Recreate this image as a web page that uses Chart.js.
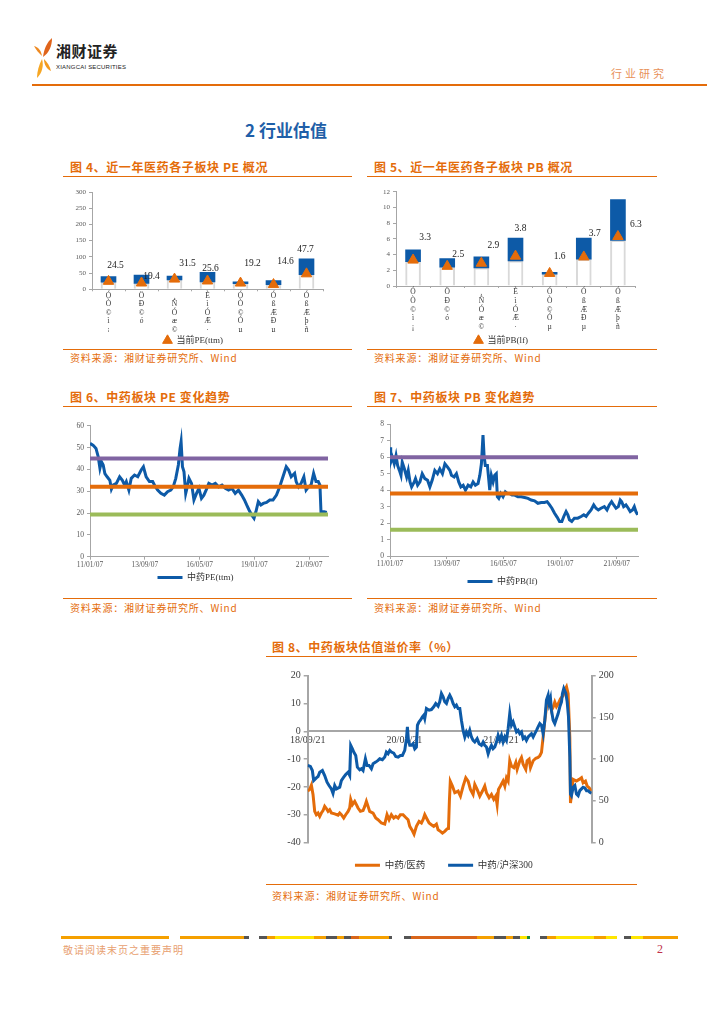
<!DOCTYPE html>
<html><head><meta charset="utf-8">
<script src="https://cdn.jsdelivr.net/npm/chart.js@4.4.1/dist/chart.umd.min.js"></script>
<style>
body{margin:0;background:#fff;width:724px;height:1024px;position:relative;overflow:hidden;font-family:'Noto Sans CJK SC',sans-serif;}
.hl{position:absolute;height:1px;background:#E46C0A;}
.ct{position:absolute;font-size:12px;line-height:14px;font-weight:700;color:#E46C0A;letter-spacing:0.6px;white-space:nowrap;}
.src{position:absolute;font-size:10px;line-height:14px;color:#E46C0A;letter-spacing:0.8px;white-space:nowrap;}
.seg{position:absolute;top:936px;height:3px;}
canvas{position:absolute;}
</style></head><body>

<svg style="position:absolute;left:33px;top:37px" width="22" height="42" viewBox="0 0 22 42">
  <path d="M10 20 C11 12 14 5 19 1 C19 9 16 16 10 20 Z" fill="#E0641B"/>
  <path d="M9 19 C6 16 3 13 1 9 C5 10 8 13 9 19 Z" fill="#EE8A22"/>
  <path d="M9 22 C6 28 4 34 4 41 C9 36 11 29 9 22 Z" fill="#F6A623"/>
  <path d="M11 22 C14 25 17 29 18 34 C14 32 11 28 11 22 Z" fill="#F39A1E"/>
</svg>
<div style="position:absolute;left:56px;top:42px;font-size:15px;font-weight:700;color:#222;letter-spacing:0.5px;line-height:18px">湘财证券</div>
<div style="position:absolute;left:56px;top:63px;font-size:6px;color:#222;letter-spacing:0.2px;line-height:8px;font-family:'Liberation Sans',sans-serif">XIANGCAI SECURITIES</div>
<div style="position:absolute;left:611px;top:66px;font-size:11px;color:#E8915A;letter-spacing:3px;line-height:14px">行业研究</div>
<div class="hl" style="left:32px;top:84px;width:675px;height:1.5px"></div>

<div style="position:absolute;left:245px;top:119px;font-size:17px;font-weight:700;color:#1F5FA8;line-height:22px">2 行业估值</div>

<div class="ct" style="left:70px;top:160px">图 4、近一年医药各子板块 PE 概况</div>
<div class="ct" style="left:374px;top:160px">图 5、近一年医药各子板块 PB 概况</div>
<div class="hl" style="left:63px;top:176px;width:289px"></div>
<div class="hl" style="left:367px;top:176px;width:290px"></div>
<div class="hl" style="left:63px;top:349px;width:289px"></div>
<div class="hl" style="left:367px;top:349px;width:290px"></div>
<div class="src" style="left:70px;top:351px">资料来源：湘财证券研究所、Wind</div>
<div class="src" style="left:374px;top:351px">资料来源：湘财证券研究所、Wind</div>

<div class="ct" style="left:70px;top:390px">图 6、中药板块 PE 变化趋势</div>
<div class="ct" style="left:374px;top:390px">图 7、中药板块 PB 变化趋势</div>
<div class="hl" style="left:63px;top:406px;width:289px"></div>
<div class="hl" style="left:367px;top:406px;width:290px"></div>
<div class="hl" style="left:63px;top:598px;width:289px"></div>
<div class="hl" style="left:367px;top:598px;width:290px"></div>
<div class="src" style="left:70px;top:601px">资料来源：湘财证券研究所、Wind</div>
<div class="src" style="left:374px;top:601px">资料来源：湘财证券研究所、Wind</div>

<div class="ct" style="left:272px;top:640px">图 8、中药板块估值溢价率（%）</div>
<div class="hl" style="left:266px;top:656px;width:371px"></div>
<div class="hl" style="left:266px;top:884px;width:371px"></div>
<div class="src" style="left:272px;top:889px">资料来源：湘财证券研究所、Wind</div>

<canvas id="c4" width="289" height="172" style="left:63px;top:183px"></canvas>
<canvas id="c5" width="290" height="172" style="left:367px;top:183px"></canvas>
<canvas id="c6" width="290" height="180" style="left:63px;top:412px"></canvas>
<canvas id="c7" width="290" height="184" style="left:367px;top:412px"></canvas>
<canvas id="c8" width="371" height="218" style="left:266px;top:662px"></canvas>

<div id="footer"></div>
<div style="position:absolute;left:63px;top:943px;font-size:10px;color:#E8A070;letter-spacing:1px;line-height:14px">敬请阅读末页之重要声明</div>
<div style="position:absolute;left:657px;top:942px;font-size:12px;color:#C0304A;line-height:14px;font-family:'Liberation Serif',serif">2</div>

<script>
// ---------- DATA ----------
const subSectors = [
  ['Ó','Ò','©','ì','¡'],
  ['Ö','Ð','©','ó'],
  ['¸','Ñ','Ó','æ','©'],
  ['È','ì','Ó','Æ','·'],
  ['Ó','Ò','©','Ó','µ'],
  ['Ó','ß','Æ','Ð','µ'],
  ['Ó','ß','Æ','þ','ñ']
];
const peNow = [24.5, 19.4, 31.5, 25.6, 19.2, 14.6, 47.7];
const peMin = [22, 18, 29, 23, 17, 14, 45];
const peMax = [39, 44, 41, 52, 23, 27, 94];
const pbNow = [3.3, 2.5, 2.9, 3.8, 1.6, 3.7, 6.3];
const pbMin = [3.1, 2.4, 2.3, 3.2, 1.5, 3.4, 5.8];
const pbMax = [4.6, 3.5, 3.7, 6.1, 1.75, 6.1, 11.0];

// months since 2011-01-07
const trendTickMonths = [0, 32, 64, 96, 128];
const trendTickLabels = ['11/01/07', '13/09/07', '16/05/07', '19/01/07', '21/09/07'];
const peBands = [45, 32, 19.3];
const pbBands = [6.0, 3.8, 1.6];
const peSeries = [[0,51.9],[1.9,51],[3.5,49.6],[4.8,45.8],[5.8,40.5],[6.7,43.5],[7.7,42],[8.7,38],[10,36.6],[11.6,35],[12.5,31],[13.5,32.8],[15.4,33.6],[17.3,36.6],[18.9,35],[20.2,32.8],[21.2,34.4],[22.7,30.5],[24.1,35.9],[26,37.4],[27.9,36.6],[29.9,39.7],[31.2,41.2],[32.8,36.6],[34.7,34.4],[36.6,34.4],[38.2,32],[39.5,30.5],[41.4,29],[43.4,28.2],[45.3,29.8],[47.2,30.5],[48.6,32],[50.1,35.9],[51.6,42],[52.6,49.6],[53.2,52.7],[54,41.2],[54.9,38.9],[55.9,29],[56.8,32],[57.8,35.9],[59.3,33.6],[60.7,26],[62.2,29],[63.6,31.3],[65.1,26.7],[66.5,28.2],[67.8,30.5],[69.4,33.6],[71.3,32.8],[73.2,33.6],[75.1,32],[77.1,32.8],[79,31.3],[80.9,30.5],[82.9,31.3],[84.8,29],[86.7,30.5],[88.6,28.2],[90.2,26],[91.5,23.7],[92.9,21.4],[94.4,19.1],[95.8,17.6],[96.9,20.6],[98.3,25.2],[99.8,23.7],[101.2,24.4],[103.1,24.9],[105,26],[106.9,26],[108.9,28.2],[110.8,32],[112.7,36.6],[114.6,41.2],[116,39.7],[117.5,36.6],[119.5,38.2],[120.4,34.4],[121.8,32],[123.3,33.6],[124.9,36.6],[126.2,30.5],[127.6,32],[129.1,32.8],[130.6,38.2],[132,34.4],[133.3,34.4],[134.3,32.8],[134.9,20.6],[136.8,20.6],[138.3,20.3]];
const pbSeries = [[0,6.6],[0.4,5.7],[1.3,6.0],[2.4,5.6],[3.4,6.1],[4.3,5.5],[5.3,5.2],[6.2,4.9],[6.9,5.7],[8.1,5.3],[9.4,4.8],[10.3,5.2],[11.3,4.5],[12.2,4.2],[13.7,4.5],[14.4,4.7],[15.6,4.3],[16.9,4.5],[18.2,5.0],[19.7,4.7],[21.2,4.6],[22.5,4.2],[23.8,4.6],[25.3,5.2],[26.8,5.0],[28.1,5.3],[29.6,5.0],[31.0,5.6],[32.5,5.4],[33.8,5.2],[34.7,4.9],[36.2,4.8],[37.5,5.0],[38.8,4.5],[40.0,4.2],[41.3,4.3],[42.6,4.0],[44.1,4.3],[45.6,4.2],[46.9,4.5],[48.2,4.3],[49.7,4.4],[50.7,4.9],[51.6,5.6],[52.5,7.35],[53.1,6.1],[53.8,5.5],[55.0,5.5],[55.7,4.7],[56.3,4.0],[57.2,4.9],[58.2,4.5],[59.1,4.9],[60.0,5.0],[60.6,3.6],[61.4,3.5],[62.5,3.8],[63.8,3.6],[65.1,3.9],[66.2,3.8],[67.5,3.8],[68.9,3.7],[70.4,3.7],[72.2,3.6],[74.1,3.6],[76.0,3.55],[77.9,3.5],[79.7,3.4],[81.6,3.35],[83.5,3.2],[85.4,3.25],[87.2,3.25],[88.7,3.3],[90.1,3.1],[91.4,2.9],[92.9,2.6],[94.4,2.35],[95.7,2.1],[97.0,2.1],[98.1,2.4],[99.4,2.7],[100.4,2.5],[101.3,2.2],[102.6,2.1],[104.1,2.3],[106.0,2.3],[107.9,2.4],[109.4,2.5],[110.7,2.4],[112.0,2.6],[113.5,2.8],[115.0,3.1],[116.3,2.9],[117.6,2.8],[119.1,2.9],[121.0,3.0],[122.5,2.8],[123.8,3.1],[125.1,3.3],[126.3,3.1],[127.6,2.9],[128.9,3.0],[130.0,3.4],[130.8,3.3],[131.9,3.0],[133.2,3.1],[134.5,2.9],[135.6,2.7],[136.9,2.8],[137.9,3.0],[138.8,2.7],[139.8,2.5]];

// months since 2018-09-21
const premTickMonths = [0, 16, 32];
const premTickLabels = ['18/09/21', '20/01/21', '21/05/21'];
const premVsPharma = [[0,-21.5],[0.33,-20.9],[0.61,-19.4],[0.88,-22.7],[1.16,-28.8],[1.43,-30],[1.71,-29.4],[1.99,-30.6],[2.26,-29.4],[2.54,-28.5],[2.81,-27],[3.09,-27.8],[3.37,-28.8],[3.64,-28.2],[3.92,-29.4],[4.47,-29.7],[5.02,-30.2],[5.3,-29.4],[5.57,-30],[5.96,-31.2],[6.29,-30],[6.68,-28.8],[6.95,-27.6],[7.12,-24.5],[7.4,-26.4],[7.78,-25.2],[8.06,-26.4],[8.33,-27.6],[8.72,-28.8],[9.16,-28.5],[9.44,-27],[9.71,-25.2],[9.99,-27],[10.26,-28.8],[10.82,-29.4],[11.26,-31.2],[11.64,-31.8],[12.2,-33],[12.75,-33.4],[13.13,-30],[13.47,-31.8],[13.85,-30],[14.24,-31.2],[14.57,-30.6],[14.96,-31.2],[15.34,-30],[15.78,-30],[16.23,-31],[16.61,-31.8],[16.89,-34.2],[17.33,-35.8],[17.6,-37],[17.99,-34.2],[18.43,-32.4],[18.82,-33],[19.09,-31.8],[19.37,-30],[19.65,-31.2],[20.09,-33],[20.47,-33.6],[20.86,-34.2],[21.3,-33.4],[21.58,-35.4],[21.96,-36],[22.3,-36.6],[22.68,-36],[23.07,-35.1],[23.3,-35],[23.45,-25],[23.6,-18],[23.95,-19.7],[24.34,-22.1],[24.89,-21.5],[25.28,-23.3],[25.72,-19.7],[26.16,-16.7],[26.55,-17.9],[26.93,-20.9],[27.37,-22.7],[27.65,-19.1],[28.04,-20.9],[28.48,-23.3],[28.92,-21.5],[29.3,-19.7],[29.58,-22.1],[30.02,-23.9],[30.41,-22.7],[30.79,-24.5],[31.13,-23.3],[31.35,-26.4],[31.57,-20.9],[31.9,-19.7],[32.34,-17.9],[32.62,-19.7],[32.89,-16.7],[33.17,-17.9],[33.44,-10.6],[33.72,-12.5],[34.11,-13.1],[34.44,-11.2],[34.66,-13.7],[35.1,-10.6],[35.38,-9.4],[35.65,-11.8],[36.09,-13.7],[36.31,-10.6],[36.64,-10],[36.87,-13.1],[37.31,-10.6],[37.75,-9.7],[38.13,-9.4],[38.41,-8.8],[38.69,-7.6],[38.96,-2.2],[39.24,3.9],[39.51,8.7],[39.96,11.1],[40.34,7.5],[40.62,8.7],[40.89,10.5],[41.17,8.9],[41.45,9.9],[41.83,11.7],[42.27,12.9],[42.55,14.8],[42.83,16],[43.1,13.5],[43.38,-2.2],[43.49,-25.8],[43.65,-22.7],[43.93,-17.3],[44.48,-17.9],[44.92,-17.3],[45.31,-16.7],[45.58,-18.5],[45.97,-17.9],[46.25,-19.7],[46.58,-20.3],[46.97,-21.5]];
const premVsHS300 = [[0,92.4],[0.44,91.2],[0.77,86.3],[0.99,74.3],[1.43,77.5],[1.71,79.1],[1.99,84.3],[2.43,86.3],[2.81,80.3],[3.2,72.3],[3.53,68.3],[3.92,64.3],[4.19,59],[4.47,68.3],[4.75,64.3],[5.3,66.3],[5.57,74.3],[5.96,78.3],[6.29,81.5],[6.68,84.3],[6.95,80.3],[7.12,116.5],[7.4,112.4],[7.62,108.4],[7.95,104.4],[8.22,90.4],[8.61,87.1],[8.89,88.4],[9.16,86.3],[9.55,100.4],[9.82,92.4],[10.15,92.4],[10.54,88.4],[10.82,94.4],[11.26,96.4],[11.64,98.4],[11.92,100.4],[12.36,99.2],[12.75,102.4],[13.02,108.4],[13.3,106.4],[13.58,110.4],[13.85,108.4],[14.24,107.2],[14.57,103.2],[14.96,102.4],[15.34,104.4],[15.67,104.4],[16.06,110.4],[16.34,124.5],[16.5,138.6],[16.67,122.5],[16.89,116.5],[17.16,116.5],[17.44,118.5],[17.72,112.4],[17.99,114.5],[18.16,140.6],[18.43,144.6],[18.65,146.6],[18.98,150.6],[19.21,152.6],[19.37,148.6],[19.65,160.6],[20.09,158.6],[20.47,159.4],[20.86,162.7],[21.19,166.7],[21.58,163.5],[21.85,168.7],[22.13,178.7],[22.41,174.7],[22.68,168.7],[22.96,166.7],[23.23,172.7],[23.51,176.7],[23.79,172.7],[24.06,166.7],[24.34,162.7],[24.61,164.7],[24.89,160.6],[25.17,160.6],[25.44,146.6],[25.72,134.5],[26,126.5],[26.27,132.5],[26.55,128.5],[26.82,134.5],[27.1,126.5],[27.37,122.5],[27.65,120.5],[28.04,124.5],[28.37,118.5],[28.75,116.5],[29.03,120.5],[29.3,116.5],[29.58,114.5],[29.86,106.4],[30.13,112.4],[30.41,116.5],[30.68,112.4],[30.96,114.5],[31.24,120.5],[31.51,128.5],[31.79,122.5],[32.07,128.5],[32.34,120.5],[32.62,126.5],[32.89,122.5],[33.17,136.5],[33.44,154.6],[33.72,140.6],[34,144.6],[34.27,138.6],[34.55,132.5],[34.82,134.5],[35.1,130.5],[35.38,132.5],[35.65,124.5],[35.93,126.5],[36.2,122.5],[36.48,126.5],[36.75,128.5],[37.03,130.5],[37.31,126.5],[37.58,130.5],[37.86,134.5],[38.13,138.6],[38.41,142.6],[38.69,140.6],[38.96,130.5],[39.24,146.6],[39.51,170.7],[39.79,176.7],[39.96,166.7],[40.18,172.7],[40.34,158.6],[40.62,146.6],[40.89,142.6],[41.17,148.6],[41.45,154.6],[41.72,162.7],[42,168.7],[42.16,178.7],[42.38,184.7],[42.72,178.7],[42.94,168.7],[43.16,150.6],[43.38,102.4],[43.49,58.2],[43.65,56.2],[43.93,66.3],[44.21,68.3],[44.48,58.2],[44.76,56.2],[45.03,62.2],[45.31,64.3],[45.58,66.3],[45.86,65.5],[46.14,62.2],[46.41,62.2],[46.69,60.2],[46.97,59]];

// ---------- STYLE ----------
const ORANGE = '#E46C0A', BLUE = '#0D5AA7', PURPLE = '#8064A2', GREEN = '#9BBB59', AX = '#A6A6A6', TXT = '#404040';
const SERIF = "'Liberation Serif','Noto Sans CJK SC',serif";
Chart.defaults.animation = false;
Chart.defaults.font.family = SERIF;
Chart.defaults.plugins.tooltip.enabled = false;

// footer stripes (decorative)
const stripes = [[61,169,'#F5A000'],[180,244,'#F5A000'],[244,249,'#555'],[259,267,'#555'],[267,275,'#F5A000'],[275,314,'#FFE600'],[314,326,'#F5A000'],[326,337,'#555'],[337,344,'#F5A000'],[344,351,'#555'],[351,359,'#D9651A'],[359,389,'#F5A000'],[389,392,'#555'],[404,411,'#555'],[411,477,'#D9651A'],[477,494,'#F5A000'],[494,506,'#555'],[506,513,'#F5A000'],[513,520,'#555'],[520,527,'#FFE600'],[527,530,'#1E8C3C'],[540,547,'#555'],[547,556,'#F5A000'],[556,594,'#FFE600'],[594,606,'#F5A000'],[606,617,'#FFE600'],[624,631,'#555'],[631,643,'#FFE600'],[643,678,'#F5A000']];
const ft = document.getElementById('footer');
stripes.forEach(([a,b,c]) => { const d = document.createElement('div'); d.className = 'seg'; d.style.left = a + 'px'; d.style.width = (b - a) + 'px'; d.style.background = c; ft.appendChild(d); });

const fixW = w => s => { s.width = w; };
const fixH = h => s => { s.height = h; };

const valueLabels = {
  id: 'valueLabels',
  afterDatasetsDraw(chart, args, o) {
    if (!o || !o.values) return;
    const ctx = chart.ctx, xs = chart.scales.x, ys = chart.scales.y;
    ctx.save();
    ctx.font = o.font; ctx.fillStyle = o.color; ctx.textAlign = 'center'; ctx.textBaseline = 'middle';
    o.values.forEach((v, i) => {
      const [dx, dy] = o.offsets[i];
      ctx.fillText(v.toFixed(1), xs.getPixelForValue(i) + dx, ys.getPixelForValue(v) + dy);
    });
    ctx.restore();
  }
};

function lineLegendLabels(chart) {
  const items = Chart.defaults.plugins.legend.labels.generateLabels(chart);
  return items.map(it => Object.assign(it, { fillStyle: it.strokeStyle, lineWidth: 0 }));
}

function rangeChart(id, now, mn, mx, yMax, yStep, legendText, padTop, padRight, xH, offsets) {
  new Chart(document.getElementById(id), {
    data: {
      labels: subSectors,
      datasets: [
        { type: 'line', label: legendText, data: now, showLine: false, pointStyle: 'triangle', pointRadius: 6,
          pointBackgroundColor: ORANGE, pointBorderColor: ORANGE, backgroundColor: ORANGE, borderColor: ORANGE, order: 0 },
        { type: 'bar', label: 'low', data: mn, backgroundColor: '#FFFFFF', borderColor: '#D9D9D9', borderWidth: 2,
          barThickness: 15, grouped: false, order: 2 },
        { type: 'bar', label: 'range', data: mn.map((v, i) => [v, mx[i]]), backgroundColor: BLUE, borderWidth: 0,
          barThickness: 15, grouped: false, order: 1 }
      ]
    },
    options: {
      responsive: false,
      layout: { padding: { left: 0, right: padRight, top: padTop, bottom: 0 } },
      scales: {
        x: { type: 'category', offset: true,
             grid: { display: true, drawOnChartArea: false, tickLength: 2, color: AX, offset: true },
             border: { color: AX },
             ticks: { font: { family: SERIF, size: 7.5, lineHeight: 1.15 }, color: '#333', maxRotation: 0, autoSkip: false, padding: 0 },
             afterFit: fixH(xH) },
        y: { min: 0, max: yMax,
             ticks: { stepSize: yStep, font: { family: SERIF, size: 7 }, color: '#595959', padding: 3 },
             grid: { drawOnChartArea: false, tickLength: 3, color: AX },
             border: { color: AX },
             afterFit: fixW(29) }
      },
      plugins: {
        legend: { position: 'bottom',
          labels: { filter: it => it.datasetIndex === 0, usePointStyle: true, boxHeight: 8, padding: 4,
                    font: { family: SERIF, size: 9 }, color: '#333' } },
        valueLabels: { values: now, offsets: offsets, font: "9.5px 'Liberation Serif',serif", color: '#222' }
      }
    },
    plugins: [valueLabels]
  });
}

rangeChart('c4', peNow, peMin, peMax, 300, 50, '当前PE(ttm)', 9, 29, 42.7,
  [[7,-16],[10,-7],[13,-16],[3,-12],[12,-20],[12,-23],[-1,-24]]);
rangeChart('c5', pbNow, pbMin, pbMax, 12, 2, '当前PB(lf)', 8.7, 22, 46,
  [[12,-23],[11,-12],[12,-18],[5,-28],[10,-17],[11,-23],[18,-12]]);

function trendChart(id, series, bands, yMax, yStep, legendText, xMax, padTop, padRight, yW, xH) {
  const bandColors = [PURPLE, ORANGE, GREEN];
  const datasets = [
    { type: 'line', label: legendText, data: series.map(([x, y]) => ({ x, y })), borderColor: BLUE, backgroundColor: BLUE,
      borderWidth: 3, pointRadius: 0, tension: 0, order: 1 }
  ];
  bands.forEach((b, i) => datasets.push({ type: 'line', label: 'band' + i, data: [{ x: 0, y: b }, { x: xMax, y: b }],
      borderColor: bandColors[i], backgroundColor: bandColors[i], borderWidth: 4, pointRadius: 0, order: 0 }));
  new Chart(document.getElementById(id), {
    data: { datasets },
    options: {
      responsive: false,
      layout: { padding: { left: 0, right: padRight, top: padTop, bottom: 0 } },
      scales: {
        x: { type: 'linear', min: 0, max: xMax,
             afterBuildTicks: s => { s.ticks = trendTickMonths.map(v => ({ value: v })); },
             ticks: { callback: v => trendTickLabels[trendTickMonths.indexOf(v)] ?? '', font: { family: SERIF, size: 7.5 },
                      color: '#595959', maxRotation: 0, autoSkip: false, padding: 1 },
             grid: { drawOnChartArea: false, tickLength: 3, color: AX },
             border: { color: AX },
             afterFit: fixH(xH) },
        y: { min: 0, max: yMax,
             ticks: { stepSize: yStep, font: { family: SERIF, size: 7.5 }, color: '#595959', padding: 3 },
             grid: { drawOnChartArea: false, tickLength: 3, color: AX },
             border: { color: AX },
             afterFit: fixW(yW) }
      },
      plugins: {
        legend: { position: 'bottom',
          labels: { filter: it => it.datasetIndex === 0, generateLabels: lineLegendLabels, boxWidth: 25, boxHeight: 3,
                    padding: 4, font: { family: SERIF, size: 9 }, color: '#333' } }
      }
    }
  });
}

trendChart('c6', peSeries, peBands, 60, 10, '中药PE(ttm)', 139, 13.7, 25, 27, 12.3);
trendChart('c7', pbSeries, pbBands, 8, 1, '中药PB(lf)', 140, 12.3, 19, 23, 17);

new Chart(document.getElementById('c8'), {
  data: {
    datasets: [
      { type: 'line', label: '中药/医药', data: premVsPharma.map(([x, y]) => ({ x, y })), yAxisID: 'y',
        borderColor: ORANGE, backgroundColor: ORANGE, borderWidth: 3, pointRadius: 0, tension: 0, order: 1 },
      { type: 'line', label: '中药/沪深300', data: premVsHS300.map(([x, y]) => ({ x, y })), yAxisID: 'y2',
        borderColor: BLUE, backgroundColor: BLUE, borderWidth: 3, pointRadius: 0, tension: 0, order: 0 }
    ]
  },
  options: {
    responsive: false,
    layout: { padding: { left: 0, right: 15.3, top: 13.7, bottom: 0 } },
    scales: {
      x: { type: 'linear', min: 0, max: 47, position: { y: 0 },
           afterBuildTicks: s => { s.ticks = premTickMonths.map(v => ({ value: v })); },
           ticks: { callback: v => premTickLabels[premTickMonths.indexOf(v)] ?? '', font: { family: SERIF, size: 10 },
                    color: TXT, maxRotation: 0, autoSkip: false, padding: 3 },
           grid: { display: false, drawTicks: false },
           border: { color: AX, width: 2 } },
      y: { position: 'left', min: -40, max: 20,
           ticks: { stepSize: 10, font: { family: SERIF, size: 10 }, color: TXT, padding: 3 },
           grid: { drawOnChartArea: false, tickLength: 4, color: AX, lineWidth: 1.5 },
           border: { color: AX, width: 2 },
           afterFit: fixW(41.7) },
      y2: { position: 'right', min: 0, max: 200,
           ticks: { stepSize: 50, font: { family: SERIF, size: 10 }, color: TXT, padding: 3 },
           grid: { drawOnChartArea: false, tickLength: 4, color: AX, lineWidth: 1.5 },
           border: { color: AX, width: 2 },
           afterFit: fixW(30) }
    },
    plugins: {
      legend: { position: 'bottom',
        labels: { sort: (a, b) => a.datasetIndex - b.datasetIndex,
                  generateLabels: ch => lineLegendLabels(ch).map(it => Object.assign(it, { text: it.datasetIndex === 0 ? it.text + '  ' : it.text })),
                  boxWidth: 25, boxHeight: 3, padding: 18, font: { family: SERIF, size: 9.5 }, color: '#333' } }
    }
  }
});
</script>
</body></html>
